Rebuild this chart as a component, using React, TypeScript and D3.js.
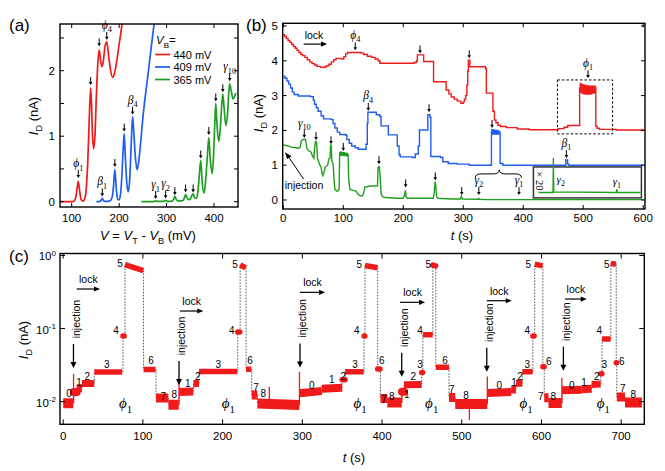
import React from "react";
import * as d3 from "d3";

type P = [number, number];
type Part = { t: string; it?: boolean; sub?: boolean; sup?: boolean };

const FONT = "'Liberation Sans', Arial, sans-serif";
const SERIF = "'Liberation Serif', 'Times New Roman', serif";
const RED = "#f01a1a";
const BLUE = "#1f5cf0";
const GREEN = "#1f9e1f";

// ---------------- Panel (a) data ----------------
const aXTicks = [100, 200, 300, 400];
const aYTicks = [0, 1, 2];
const aYMinor = [0.5, 1.5, 2.5];
const aRed: P[] = [[75, 0], [100, 0], [104, 0.005], [108, 0.05], [111, 0.18], [114, 0.31], [117, 0.15], [120, 0.03], [124, 0.01], [128, 0.06], [131, 0.22], [134, 0.62], [137, 1.25], [140, 1.74], [142, 1.45], [144, 1.0], [146.5, 0.81], [149, 1.0], [152, 1.6], [155, 2.1], [158, 2.32], [161, 2.15], [164, 2.06], [167, 2.16], [170, 2.36], [174, 2.44], [178, 2.22], [182, 2.0], [186, 1.9], [190, 1.95], [195, 2.15], [200, 2.4], [205, 2.65], [209, 2.85]];
const aBlue: P[] = [[152, 0], [160, 0.005], [163, 0.03], [164.5, 0.05], [166, 0.03], [169, 0.005], [180, 0.01], [185, 0.06], [188, 0.22], [191, 0.49], [194, 0.2], [197, 0.03], [200, 0.03], [203, 0.12], [206, 0.42], [208.5, 0.8], [210.7, 1.04], [213, 0.7], [216, 0.3], [219, 0.15], [222, 0.3], [225, 0.8], [228.4, 1.3], [231, 1.05], [234, 0.7], [238, 0.49], [242, 0.66], [246, 0.95], [250, 1.28], [255, 1.6], [261, 1.95], [268, 2.38], [276, 2.85]];
const aGreen: P[] = [[247, 0], [270, 0], [274, 0.004], [277, 0.012], [280, 0.004], [294, 0.004], [298, 0.02], [302, 0.004], [312, 0.01], [315, 0.04], [317.5, 0.08], [320, 0.04], [324, 0.01], [335, 0.02], [338, 0.07], [340, 0.11], [343, 0.06], [347, 0.03], [350, 0.04], [353, 0.09], [356, 0.12], [359, 0.06], [363, 0.05], [366, 0.15], [369, 0.4], [372, 0.63], [375, 0.3], [379, 0.13], [382, 0.3], [386, 0.7], [389, 0.98], [392, 0.65], [396, 0.43], [399, 0.7], [401, 1.1], [403.7, 1.5], [406, 1.2], [410, 0.92], [413, 1.1], [416, 1.45], [418.5, 1.64], [421, 1.45], [425, 1.16], [428, 1.3], [431, 1.65], [433, 1.8], [436, 1.7], [440, 1.57], [443, 1.6], [446, 1.66]];
// arrows: [V, tip current, label base, label sub]
const aArrows: [number, number, string, string][] = [
  [114, 0.36, "ϕ", "1"], [140, 1.78, "", ""], [158, 2.37, "", ""], [174, 2.47, "ϕ", "4"],
  [164.5, 0.08, "β", "1"], [191, 0.53, "", ""], [210.7, 1.07, "", ""], [228.4, 1.33, "β", "4"],
  [277, 0.04, "γ", "1"], [298, 0.05, "γ", "2"], [317.5, 0.1, "", ""], [340, 0.14, "", ""], [356, 0.14, "", ""],
  [372, 0.66, "", ""], [389, 1.02, "", ""], [403.7, 1.53, "", ""], [418.5, 1.67, "", ""], [433, 1.84, "γ", "10"],
];
const aLegend = ["440 mV", "409 mV", "365 mV"];

// ---------------- Panel (b) data ----------------
const bXTicks = [0, 100, 200, 300, 400, 500, 600];
const bYTicks = [0, 1, 2, 3, 4, 5];
const bRed: P[] = [[0, 4.75], [2, 4.7], [5, 4.64], [8, 4.58], [11, 4.53], [14, 4.47], [17, 4.41], [20, 4.36], [23, 4.3], [26, 4.24], [29, 4.19], [32, 4.15], [36, 4.1], [40, 4.03], [44, 3.97], [48, 3.92], [52, 3.88], [56, 3.84], [62, 3.81], [68, 3.82], [72, 3.86], [76, 3.9], [80, 3.97], [84, 4.03], [88, 4.07], [97, 4.05], [101, 4.12], [104, 4.2], [107, 4.24], [130, 4.22], [134, 4.18], [140, 4.13], [147, 4.1], [153, 4.05], [158, 4.0], [161, 3.93], [218, 3.95], [222, 4.0], [223.5, 4.17], [232, 4.17], [234, 3.98], [249, 3.98], [250.5, 3.4], [270, 3.4], [271.5, 3.16], [276, 3.05], [280, 2.96], [285, 2.9], [290, 2.84], [296, 2.78], [300, 2.82], [302, 2.9], [304, 3.0], [306, 3.3], [307.5, 3.7], [308.5, 4.02], [311, 3.83], [337, 3.78], [338.5, 3.07], [348, 3.07], [349.5, 2.55], [352, 2.3], [354.5, 2.22], [358, 2.15], [362, 2.11], [372, 2.08], [390, 2.04], [410, 2.02], [455, 2.02], [458, 2.05], [468, 2.09], [474, 2.14], [494, 3.22], [521, 2.12], [523, 2.06], [527, 2.03], [555, 2.01], [600, 2.0]];
const bRedBlock: [number, number, number][] = [[494.5, 3.1, 3.37], [498, 3.05, 3.33], [505, 3.03, 3.3], [512, 3.03, 3.28], [520.5, 3.08, 3.28]];
const bBlue: P[] = [[0, 3.55], [3, 3.5], [6, 3.42], [9, 3.33], [12, 3.22], [15, 3.1], [18, 3.03], [25, 2.99], [45, 2.97], [50, 2.87], [52, 2.75], [55, 2.65], [58, 2.55], [63, 2.42], [67, 2.33], [80, 2.31], [83, 2.2], [86, 2.07], [90, 1.95], [94, 1.88], [104, 1.86], [106, 1.74], [110, 1.63], [114, 1.55], [120, 1.5], [125, 1.46], [136, 1.46], [138, 1.6], [140, 2.2], [141, 2.52], [155, 2.45], [161, 2.4], [163, 2.13], [173, 2.13], [175, 1.87], [188, 1.87], [190, 1.55], [193, 1.3], [195, 1.24], [215, 1.22], [220, 1.32], [225, 1.55], [227, 2.01], [240, 2.01], [241, 2.45], [244.5, 2.38], [246, 1.25], [262, 1.22], [266, 1.1], [275, 1.05], [290, 1.03], [310, 1.0], [346, 1.0], [347, 1.95], [360, 1.95], [361.5, 1.05], [366, 1.0], [470, 1.0], [471, 1.15], [474, 1.03], [476, 1.0], [600, 1.0]];
const bBlueBlock: [number, number, number][] = [[347, 1.88, 2.04], [352, 1.88, 2.02], [360, 1.88, 2.0]];
const bGreen: P[] = [[0, 1.58], [10, 1.55], [12, 1.52], [22, 1.5], [25, 1.48], [28, 1.52], [30, 1.7], [33, 1.74], [37, 1.74], [39, 1.5], [42, 1.42], [46, 1.38], [49, 1.25], [51, 1.2], [52, 1.45], [53.5, 1.68], [55.5, 1.66], [57, 1.2], [59, 1.1], [61, 1.0], [63, 0.95], [64.5, 0.78], [66, 0.7], [68, 0.8], [70, 0.95], [74, 1.0], [76, 1.18], [78, 1.2], [79, 1.6], [80, 1.55], [81, 1.1], [83, 1.05], [85, 0.5], [86, 0.3], [90, 0.25], [93, 0.3], [94, 1.36], [100, 1.36], [101, 1.32], [108, 1.3], [109, 0.6], [111, 0.3], [118, 0.27], [121, 0.26], [124, 0.18], [128, 0.12], [132, 0.12], [134, 0.2], [136, 0.37], [145, 0.4], [157, 0.41], [158, 0.95], [160, 0.96], [161, 0.8], [163, 0.2], [165, 0.1], [170, 0.07], [190, 0.05], [200, 0.05], [202, 0.12], [203.5, 0.28], [205, 0.08], [207, 0.05], [250, 0.05], [251.5, 0.2], [253, 0.52], [254, 0.45], [255.5, 0.1], [258, 0.05], [280, 0.03], [295, 0.03], [297, 0.11], [298.5, 0.03], [325, 0.02], [326, 0.04], [327, 0.02], [340, 0.01], [600, 0.01]];
const bGreenBlock: [number, number, number][] = [[94.5, 1.28, 1.39], [108, 1.26, 1.34]];
const bArrows: [number, number, string, string][] = [
  [120, 4.3, "ϕ", "4"], [228, 4.21, "", ""], [310, 4.07, "", ""], [508, 3.5, "ϕ", "1"],
  [141.7, 2.56, "β", "4"], [243, 2.52, "", ""], [348, 2.07, "", ""], [472, 1.2, "β", "1"],
  [35, 1.78, "γ", "10"], [54.5, 1.72, "", ""], [79.5, 1.6, "", ""], [100, 1.41, "", ""], [159.5, 1.03, "", ""],
  [204, 0.36, "", ""], [253.4, 0.56, "", ""], [297.5, 0.14, "", ""], [326, 0.14, "γ", "2"], [393, 0.14, "γ", "1"],
];
const bInset: P[] = [[310, 0.002], [325.4, 0.002], [325.8, 0.052], [326.3, 0.003], [392.6, 0.002], [393, 0.007], [393.6, 0.002], [418, 0.002]];

// ---------------- Panel (c) data ----------------
const cXTicks = [0, 100, 200, 300, 400, 500, 600, 700];
const cYTicks = [0.01, 0.1, 1];
const cYTickLabels = ["-2", "-1", "0"];
// plateaus: [t start, t end, I start, I end]
const cPlateaus: [number, number, number, number][] = [
  [0, 12.7, 0.0095, 0.0095], [13.3, 17, 0.0135, 0.0135], [17, 23.5, 0.0152, 0.0152], [23.5, 39, 0.0177, 0.0177],
  [39, 74, 0.0255, 0.0255], [75, 76.5, 0.079, 0.079], [77.5, 100.5, 0.75, 0.62], [100.8, 116, 0.0275, 0.0275],
  [116.5, 132, 0.0112, 0.0112], [132, 145, 0.0091, 0.0091], [145.5, 163.3, 0.0136, 0.0138], [163.3, 170.4, 0.0177, 0.0177],
  [170.4, 218.5, 0.0258, 0.0258], [219, 221.5, 0.09, 0.09], [222, 229, 0.74, 0.68], [229.4, 236, 0.0278, 0.0278],
  [236.5, 243.6, 0.0123, 0.0123], [243.6, 296.3, 0.0094, 0.009], [296.5, 324.3, 0.013, 0.014], [324.3, 350, 0.015, 0.0155],
  [350, 353.6, 0.02, 0.02], [353.6, 377, 0.0256, 0.0256], [377.4, 378.4, 0.079, 0.079], [378.6, 394.3, 0.73, 0.68],
  [394.5, 397.4, 0.028, 0.028], [398, 406.6, 0.011, 0.011], [406.6, 424.7, 0.0097, 0.0097], [425, 427.6, 0.0137, 0.0137],
  [427.6, 449.7, 0.017, 0.0172], [449.8, 450.8, 0.025, 0.025], [451.2, 463.6, 0.082, 0.082], [463.8, 467.2, 0.74, 0.72],
  [467.4, 484, 0.0295, 0.0295], [484, 491.8, 0.0114, 0.0114], [491.8, 532, 0.0093, 0.0093], [532.2, 562, 0.0131, 0.0136],
  [562, 568, 0.0147, 0.0147], [568, 576, 0.0178, 0.0178], [576, 589, 0.0256, 0.0256], [589.2, 590.8, 0.079, 0.079],
  [591.5, 601.5, 0.76, 0.72], [601.8, 603.3, 0.03, 0.03], [603.5, 608.8, 0.0113, 0.0113], [608.8, 625.5, 0.0096, 0.0096],
  [625.8, 650.6, 0.0143, 0.0146], [650.6, 663, 0.0148, 0.015], [663, 674.3, 0.0172, 0.0174], [674.5, 675.8, 0.024, 0.024],
  [676, 686.8, 0.072, 0.072], [687, 693.5, 0.78, 0.76], [693.8, 694.3, 0.034, 0.034], [694.5, 704.8, 0.0116, 0.0116],
  [704.8, 726, 0.0097, 0.0097],
];
const cSpikes: [number, number, number][] = [[13, 0.0095, 0.024], [145.3, 0.0091, 0.018], [258.6, 0.0094, 0.016], [296.4, 0.009, 0.0256], [424.8, 0.0097, 0.015], [509.6, 0.0093, 0.0056], [532.1, 0.0093, 0.022], [625.6, 0.0096, 0.021]];
const cNumbers: [number, number, string][] = [
  [7.3, 0.0129, "0"], [19.8, 0.0183, "1"], [30.2, 0.0219, "2"], [54.6, 0.0327, "3"], [66.2, 0.0953, "4"], [71.3, 0.765, "5"], [110.2, 0.037, "6"], [125.6, 0.01164, "7"], [139.4, 0.01267, "8"],
  [156.2, 0.01775, "1"], [168.8, 0.0223, "2"], [194.6, 0.0327, "3"], [211.4, 0.0953, "4"], [215.6, 0.76, "5"], [234.4, 0.037, "6"], [241.9, 0.01566, "7"], [251.1, 0.0129, "8"],
  [311.8, 0.01683, "0"], [336.9, 0.0201, "1"], [351.4, 0.0219, "2"], [366.1, 0.0327, "3"], [368.3, 0.0953, "4"], [371.5, 0.76, "5"], [399.6, 0.037, "6"], [402.5, 0.0107, "7"], [412.2, 0.01164, "8"],
  [431, 0.01267, "1"], [439.3, 0.0223, "2"], [447.7, 0.0327, "3"], [447.7, 0.0953, "4"], [458.1, 0.76, "5"], [479, 0.037, "6"], [487.5, 0.01469, "7"], [505.4, 0.01228, "8"],
  [547.2, 0.01683, "0"], [565.6, 0.0181, "1"], [573.2, 0.0223, "2"], [582.3, 0.0327, "3"], [582.3, 0.0953, "4"], [583.6, 0.76, "5"], [609.2, 0.0351, "6"], [599.1, 0.01164, "7"], [614.9, 0.01164, "8"],
  [638, 0.01683, "0"], [653.4, 0.0181, "1"], [669.4, 0.0223, "2"], [678.9, 0.0327, "3"], [672.6, 0.0953, "4"], [681.9, 0.76, "5"], [700.8, 0.0359, "6"], [702, 0.01517, "7"], [715.3, 0.01267, "8"],
];
const cPhi: number[] = [78.4, 207.2, 372.4, 462.3, 580.6, 677.7];
const cInjection: [number, number][] = [[12.9, 0.0288], [145.3, 0.0169], [297.1, 0.0294], [424.7, 0.0219], [531.4, 0.0257], [627.5, 0.0265]];
const cLock: [number, number, number][] = [[16.9, 46.2, 0.3477], [146.5, 175.8, 0.1738], [297.1, 328.5, 0.313], [422.6, 454, 0.2286], [531.4, 562.7, 0.2403], [629.6, 656.8, 0.2535]];

// ---------------- helpers ----------------
function Rich({ x, y, parts, size, family = FONT, anchor = "start", transform, fill = "#000" }: any) {
  let cur = 0;
  const spans = (parts as Part[]).map((p, i) => {
    const target = p.sub ? size * 0.32 : p.sup ? -size * 0.42 : 0;
    const dy = target - cur;
    cur = target;
    return (
      <tspan key={i} dy={dy} fontSize={p.sub || p.sup ? size * 0.7 : size} fontStyle={p.it ? "italic" : "normal"}>
        {p.t}
      </tspan>
    );
  });
  return (
    <text x={x} y={y} fontFamily={family} fontSize={size} textAnchor={anchor} transform={transform} fill={fill} style={{ whiteSpace: "pre" }}>
      {spans}
    </text>
  );
}

function Greek({ x, y, base, sub, size = 12, anchor = "middle" }: any) {
  return (
    <text x={x} y={y} fontFamily={SERIF} fontSize={size} textAnchor={anchor} style={{ whiteSpace: "pre" }}>
      <tspan fontStyle="italic">{base}</tspan>
      <tspan fontSize={size * 0.72} dy={size * 0.3}>{sub}</tspan>
    </text>
  );
}

function DownArrow({ x, y, len = 9, head = 3.5, hw = 2, w = 1 }: any) {
  return (
    <g>
      <line x1={x} y1={y - len} x2={x} y2={y - head + 0.5} stroke="#000" strokeWidth={w} />
      <path d={`M${x - hw},${y - head} L${x + hw},${y - head} L${x},${y} Z`} fill="#000" />
    </g>
  );
}

function RightArrow({ x1, x2, y, head = 6, hw = 2.6, w = 1.2 }: any) {
  return (
    <g>
      <line x1={x1} y1={y} x2={x2 - head + 0.5} y2={y} stroke="#000" strokeWidth={w} />
      <path d={`M${x2 - head},${y - hw} L${x2 - head},${y + hw} L${x2},${y} Z`} fill="#000" />
    </g>
  );
}

function Frame({ x0, x1, y0, y1, xTicks, yTicks, xs, ys, tl = 5 }: any) {
  return (
    <g stroke="#000" strokeWidth={1}>
      {xTicks.map((t: number, i: number) => (
        <g key={"x" + i}>
          <line x1={xs(t)} x2={xs(t)} y1={y1} y2={y1 - tl} />
          <line x1={xs(t)} x2={xs(t)} y1={y0} y2={y0 + tl} />
        </g>
      ))}
      {yTicks.map((t: number, i: number) => (
        <g key={"y" + i}>
          <line x1={x0} x2={x0 + tl} y1={ys(t)} y2={ys(t)} />
          <line x1={x1} x2={x1 - tl} y1={ys(t)} y2={ys(t)} />
        </g>
      ))}
      <rect x={x0} y={y0} width={x1 - x0} height={y1 - y0} fill="none" strokeWidth={1.4} />
    </g>
  );
}

export default function App() {
  // ----- scales (a)
  const ax0 = 60, ax1 = 238, ay0 = 24, ay1 = 207;
  const xA = d3.scaleLinear().domain([75.4, 450.5]).range([ax0, ax1]);
  const yA = d3.scaleLinear().domain([-0.081, 2.713]).range([ay1, ay0]);
  const lineA = d3.line<P>().x((d) => xA(d[0])).y((d) => yA(d[1])).curve(d3.curveMonotoneX);

  // ----- scales (b)
  const bx0 = 282.7, bx1 = 645, by0 = 23.3, by1 = 209;
  const xB = d3.scaleLinear().domain([-1, 603]).range([bx0, bx1]);
  const yB = d3.scaleLinear().domain([-0.259, 5.078]).range([by1, by0]);
  const stepB = d3.line<P>().x((d) => xB(d[0])).y((d) => yB(d[1])).curve(d3.curveStepAfter);
  const linB = d3.line<P>().x((d) => xB(d[0])).y((d) => yB(d[1]));
  const areaB = d3.area<[number, number, number]>().x((d) => xB(d[0])).y0((d) => yB(d[1])).y1((d) => yB(d[2]));
  // inset
  const ix0 = xB(417), ix1 = xB(597), iy0 = yB(0.95), iy1 = yB(0.06);
  const xI = d3.scaleLinear().domain([310, 418]).range([ix0 + 5, ix1 - 1]);
  const yI = d3.scaleLinear().domain([0, 0.06]).range([iy1 - 4, iy1 - 4 - 0.06 * 20 * 34.8]);
  const lineI = d3.line<P>().x((d) => xI(d[0])).y((d) => yI(d[1]));

  // ----- scales (c)
  const cx0 = 60, cx1 = 644.3, cy0 = 253.5, cy1 = 424.3;
  const xC = d3.scaleLinear().domain([-4, 729]).range([cx0, cx1]);
  const yC = d3.scaleLog().domain([Math.pow(10, -2.31), Math.pow(10, 0.027)]).range([cy1, cy0]);

  const bandW = (v: number) => (v < 0.0105 ? 10 : v < 0.013 ? 9 : v < 0.016 ? 8 : v < 0.02 ? 7 : 5.5);

  const braceY = yB(0.75), braceX1 = xB(320), braceX2 = xB(397), braceXm = xB(360);
  const braceD = `M${braceX1},${braceY + 4} Q${braceX1},${braceY} ${braceX1 + 6},${braceY} L${braceXm - 6},${braceY} Q${braceXm},${braceY} ${braceXm},${braceY - 4} Q${braceXm},${braceY} ${braceXm + 6},${braceY} L${braceX2 - 6},${braceY} Q${braceX2},${braceY} ${braceX2},${braceY + 4}`;

  const aColors = [RED, BLUE, GREEN];

  return (
    <svg width={665} height={471} style={{ position: "absolute", left: 0, top: 0, background: "#fff" }} fontFamily={FONT}>
      <rect x={0} y={0} width={665} height={471} fill="#fff" />
      <defs>
        <clipPath id="clipA"><rect x={ax0} y={ay0} width={ax1 - ax0} height={ay1 - ay0} /></clipPath>
        <clipPath id="clipB"><rect x={bx0} y={by0} width={bx1 - bx0} height={by1 - by0} /></clipPath>
        <clipPath id="clipC"><rect x={cx0} y={cy0} width={cx1 - cx0} height={cy1 - cy0} /></clipPath>
      </defs>

      {/* panel labels */}
      <text x={9} y={31} fontSize={17}>(a)</text>
      <text x={246} y={31} fontSize={17}>(b)</text>
      <text x={9} y={262} fontSize={17}>(c)</text>

      {/* ================= Panel (a) ================= */}
      <g clipPath="url(#clipA)" fill="none" strokeWidth={1.7}>
        <path d={lineA(aRed) || ""} stroke={RED} />
        <path d={lineA(aBlue) || ""} stroke={BLUE} />
        <path d={lineA(aGreen) || ""} stroke={GREEN} />
      </g>
      <Frame x0={ax0} x1={ax1} y0={ay0} y1={ay1} xTicks={aXTicks} yTicks={[...aYTicks, ...aYMinor]} xs={xA} ys={yA} tl={4} />
      {aXTicks.map((t) => (
        <text key={t} x={xA(t)} y={222} fontSize={11.5} textAnchor="middle">{t}</text>
      ))}
      {aYTicks.map((t) => (
        <text key={t} x={55} y={yA(t) + 4} fontSize={11.5} textAnchor="end">{t}</text>
      ))}
      <Rich x={38} y={116} size={13} anchor="middle" transform="rotate(-90 38 116)" parts={[{ t: "I", it: true }, { t: "D", sub: true }, { t: " (nA)" }]} />
      <Rich x={148} y={240} size={13} anchor="middle" parts={[{ t: "V", it: true }, { t: " = " }, { t: "V", it: true }, { t: "T", sub: true }, { t: " - " }, { t: "V", it: true }, { t: "B", sub: true }, { t: " (mV)" }]} />
      {aArrows.map(([v, tip, b, s], i) => {
        const x = xA(v), y = yA(tip);
        return (
          <g key={i}>
            <DownArrow x={x} y={y} len={8} head={3.2} hw={1.8} />
            {b && <Greek x={x} y={y - 11} base={b} sub={s} size={11.5} />}
          </g>
        );
      })}
      {/* legend */}
      <Rich x={156} y={44} size={11.5} parts={[{ t: "V", it: true }, { t: "B", sub: true }, { t: "=" }]} />
      {aLegend.map((l, i) => (
        <g key={l}>
          <line x1={155} x2={170} y1={54.5 + i * 12.5} y2={54.5 + i * 12.5} stroke={aColors[i]} strokeWidth={1.7} />
          <text x={173.5} y={58.5 + i * 12.5} fontSize={11}>{l}</text>
        </g>
      ))}

      {/* ================= Panel (b) ================= */}
      <g clipPath="url(#clipB)" fill="none" strokeWidth={1.4}>
        <path d={stepB(bRed) || ""} stroke={RED} />
        <path d={areaB(bRedBlock) || ""} fill={RED} stroke={RED} strokeWidth={0.6} />
        <path d={stepB(bBlue) || ""} stroke={BLUE} />
        <path d={areaB(bBlueBlock) || ""} fill={BLUE} stroke={BLUE} strokeWidth={0.6} />
        <path d={linB(bGreen) || ""} stroke={GREEN} />
        <path d={areaB(bGreenBlock) || ""} fill={GREEN} stroke={GREEN} strokeWidth={0.6} />
      </g>
      <Frame x0={bx0} x1={bx1} y0={by0} y1={by1} xTicks={bXTicks} yTicks={bYTicks} xs={xB} ys={yB} tl={4} />
      {bXTicks.map((t) => (
        <text key={t} x={xB(t)} y={222} fontSize={11.5} textAnchor="middle">{t}</text>
      ))}
      {bYTicks.map((t) => (
        <text key={t} x={278} y={yB(t) + 4} fontSize={11.5} textAnchor="end">{t}</text>
      ))}
      <Rich x={263} y={113} size={13} anchor="middle" transform="rotate(-90 263 113)" parts={[{ t: "I", it: true }, { t: "D", sub: true }, { t: " (nA)" }]} />
      <Rich x={462} y={240} size={13} anchor="middle" parts={[{ t: "t", it: true }, { t: " (s)" }]} />
      {bArrows.map(([t, tip, b, s], i) => {
        const x = xB(t), y = yB(tip);
        return (
          <g key={i}>
            <DownArrow x={x} y={y} len={8} head={3.2} hw={1.8} />
            {b && <Greek x={x} y={y - 11.5} base={b} sub={s} size={11.5} />}
          </g>
        );
      })}
      <text x={314} y={38.5} fontSize={10.5} textAnchor="middle">lock</text>
      <RightArrow x1={xB(34)} x2={xB(73)} y={yB(4.48)} />
      {/* dashed box */}
      <rect x={xB(457)} y={yB(3.45)} width={xB(549) - xB(457)} height={yB(1.9) - yB(3.45)} fill="none" stroke="#000" strokeWidth={1} strokeDasharray="2.5,2" />
      {/* injection arrow */}
      <text x={304} y={189} fontSize={10.5} textAnchor="middle">injection</text>
      <line x1={303.5} y1={179} x2={288} y2={156} stroke="#000" strokeWidth={1} />
      <path d="M285,152.3 L291.5,156.3 L287,159 Z" fill="#000" />
      {/* brace */}
      <path d={braceD} fill="none" stroke="#000" strokeWidth={1} />
      {/* inset */}
      <rect x={ix0} y={iy0} width={ix1 - ix0} height={iy1 - iy0} fill="#fff" stroke="#333" strokeWidth={1.5} />
      <path d={lineI(bInset) || ""} fill="none" stroke={GREEN} strokeWidth={1.3} />
      <text x={539.5} y={181} fontSize={10.5} fontFamily={SERIF} textAnchor="middle" transform="rotate(90 539.5 181)" dy={3.5}>× 20</text>
      <Greek x={xI(326) + 3} y={183} base="γ" sub="2" size={11} anchor="start" />
      <Greek x={xI(393)} y={185} base="γ" sub="1" size={11} />

      {/* ================= Panel (c) ================= */}
      <g clipPath="url(#clipC)">
        {cPlateaus.slice(0, -1).map((p, i) => {
          const n = cPlateaus[i + 1];
          return (
            <line key={"d" + i} x1={xC(n[0])} x2={xC(n[0])} y1={yC(p[3])} y2={yC(n[2])} stroke="#333" strokeWidth={0.8} strokeDasharray="1.6,1.4" />
          );
        })}
        {cSpikes.map(([t, b, top], i) => (
          <line key={"s" + i} x1={xC(t)} x2={xC(t)} y1={yC(b)} y2={yC(top)} stroke={RED} strokeWidth={1.3} />
        ))}
        {cPlateaus.map(([t0, t1, v0, v1], i) => {
          const short = xC(t1) - xC(t0) < 3;
          return (
            <line key={"p" + i} x1={xC(t0)} x2={xC(t1)} y1={yC(v0)} y2={yC(v1)} stroke={RED} strokeWidth={bandW(Math.min(v0, v1))} strokeLinecap={short ? "round" : "butt"} />
          );
        })}
      </g>
      <Frame x0={cx0} x1={cx1} y0={cy0} y1={cy1} xTicks={cXTicks} yTicks={cYTicks} xs={xC} ys={yC} tl={5} />
      {cXTicks.map((t) => (
        <text key={t} x={xC(t)} y={440} fontSize={11.5} textAnchor="middle">{t}</text>
      ))}
      {cYTicks.map((t, i) => (
        <Rich key={t} x={56} y={yC(t) + 5} size={11.5} anchor="end" parts={[{ t: "10" }, { t: cYTickLabels[i], sup: true }]} />
      ))}
      <Rich x={28} y={340} size={13} anchor="middle" transform="rotate(-90 28 340)" parts={[{ t: "I", it: true }, { t: "D", sub: true }, { t: " (nA)" }]} />
      <Rich x={354} y={462} size={13} anchor="middle" parts={[{ t: "t", it: true }, { t: " (s)" }]} />
      {cNumbers.map(([t, v, s], i) => (
        <text key={"n" + i} x={xC(t)} y={yC(v) + 3.5} fontSize={10} textAnchor="middle">{s}</text>
      ))}
      {cPhi.map((t, i) => (
        <Greek key={"phi" + i} x={xC(t)} y={yC(0.00945) + 5} base="ϕ" sub="1" size={15} />
      ))}
      {cInjection.map(([t, tip], i) => {
        const x = xC(t), y = yC(tip);
        const top = y - 24;
        const cy = top - 25;
        return (
          <g key={"inj" + i}>
            <line x1={x} x2={x} y1={top} y2={y - 5} stroke="#000" strokeWidth={1.3} />
            <path d={`M${x - 3},${y - 6} L${x + 3},${y - 6} L${x},${y} Z`} fill="#000" />
            <text x={x + 2.5} y={cy} fontSize={10.5} textAnchor="middle" transform={`rotate(-90 ${x + 2.5} ${cy})`} dy={3.7}>injection</text>
          </g>
        );
      })}
      {cLock.map(([t0, t1, v], i) => {
        const x0 = xC(t0), x1 = xC(t1), y = yC(v);
        return (
          <g key={"lk" + i}>
            <RightArrow x1={x0} x2={x1} y={y} />
            <text x={(x0 + x1) / 2} y={y - 6} fontSize={10.5} textAnchor="middle">lock</text>
          </g>
        );
      })}
    </svg>
  );
}
